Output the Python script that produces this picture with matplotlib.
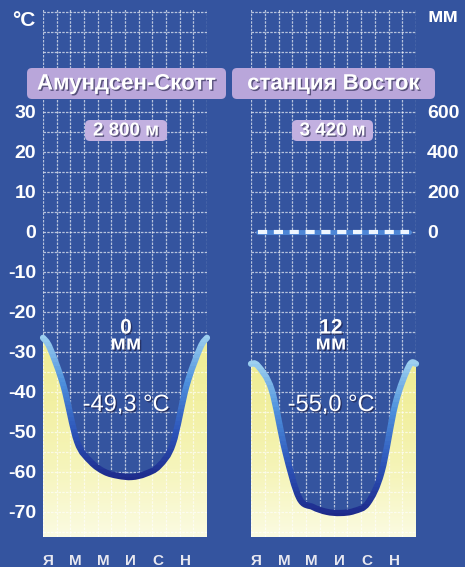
import numpy as np
import matplotlib
matplotlib.use('Agg')
import matplotlib.pyplot as plt
from matplotlib.path import Path
from matplotlib.patches import PathPatch, Rectangle, FancyBboxPatch
from matplotlib.colors import LinearSegmentedColormap
import matplotlib.patheffects as pe

plt.rcParams['font.family'] = ['Liberation Sans', 'DejaVu Sans']

# ---- данные ----
stations = ['Амундсен-Скотт', 'станция Восток']
heights = ['2 800 м', '3 420 м']
mean_temp = ['-49,3 °C', '-55,0 °C']
total_precip = ['0', '12']
month_labels = ['Я', 'М', 'М', 'И', 'С', 'Н']

# средняя температура по месяцам, °C (янв..дек), и значение на краю года
temp_amundsen = [-29, -38.5, -52.5, -57.5, -60, -61, -61.3, -60.5, -58.5, -53, -38.5, -29]
edge_amundsen = -26.5
temp_vostok = [-33.5, -39.5, -55, -66.5, -68.8, -70, -70.3, -69.8, -67.8, -60, -43, -33.5]
edge_vostok = -33
# осадки, мм (Восток, 12 мм за год)
precip_vostok = [1, 1, 1, 1, 1, 1, 1, 1, 1, 1, 1, 1]

t_ticks = [30, 20, 10, 0, -10, -20, -30, -40, -50, -60, -70]
p_ticks = [0, 200, 400, 600]

YMIN, YMAX = -76.3, 55.7
BG = '#34549f'
W, H = 465, 567

fill_cmap = LinearSegmentedColormap.from_list('f', ['#eeec92', '#f2f0a2', '#f6f5bc', '#fbfbe2'])
line_cmap = LinearSegmentedColormap.from_list('l', ['#1c2585', '#2c53b8', '#4d8fdc', '#a6d8f2'])


def smooth_path(xs, ys):
    pts = np.column_stack([xs, ys])
    ext = np.vstack([pts[0], pts, pts[-1]])
    verts = [pts[0]]
    codes = [Path.MOVETO]
    for i in range(len(pts) - 1):
        p0, p1, p2, p3 = ext[i], ext[i + 1], ext[i + 2], ext[i + 3]
        verts += [p1 + (p2 - p0) / 6, p2 - (p3 - p1) / 6, p2]
        codes += [Path.CURVE4] * 3
    return verts, codes


fig = plt.figure(figsize=(4.65, 5.67), dpi=100)
fig.patch.set_facecolor(BG)

panels = [(43, 164, temp_amundsen, edge_amundsen), (251, 165, temp_vostok, edge_vostok)]
axes = []
for k, (x0, w, temps, edge) in enumerate(panels):
    ax = fig.add_axes([x0 / W, 30 / H, w / W, 528 / H])
    ax.set_facecolor(BG)
    ax.set_xlim(0, 12)
    ax.set_ylim(YMIN, YMAX)
    for s in ax.spines.values():
        s.set_visible(False)
    ax.tick_params(length=0, colors='white', labelsize=14)

    xs = np.concatenate([[0], np.arange(12) + 0.5, [12]])
    ys = np.concatenate([[edge], temps, [edge]])
    verts, codes = smooth_path(xs, ys)

    # жёлтая заливка под кривой
    fv = verts + [(12, YMIN), (0, YMIN), (0, YMIN)]
    fc = codes + [Path.LINETO, Path.LINETO, Path.CLOSEPOLY]
    fpatch = PathPatch(Path(fv, fc), facecolor='none', edgecolor='none')
    ax.add_patch(fpatch)
    grad = np.linspace(0, 1, 256).reshape(-1, 1)
    im = ax.imshow(grad, cmap=fill_cmap, aspect='auto', extent=(0, 12, YMIN, max(ys) + 1),
                   origin='upper', zorder=1)
    im.set_clip_path(fpatch)

    # сетка
    for gx in range(13):
        ax.axvline(gx, color='white', lw=0.9, ls=(0, (2, 1)), alpha=0.65, zorder=2)
    for gy in range(-75, 56, 5):
        ax.axhline(gy, color='white', lw=0.9, ls=(0, (2, 1)), alpha=0.65, zorder=2)

    # кривая температуры с вертикальным градиентом
    lo, hi = min(ys) - 2, max(ys) + 2
    bands = np.linspace(lo, hi, 40)
    cpath = Path(verts, codes)
    for i in range(len(bands) - 1):
        col = line_cmap((i + 0.5) / (len(bands) - 1))
        pp = PathPatch(cpath, facecolor='none', edgecolor=col, lw=4.5, zorder=3,
                       capstyle='round', joinstyle='round')
        ax.add_patch(pp)
        rect = Rectangle((-1, bands[i]), 14, bands[i + 1] - bands[i], transform=ax.transData)
        pp.set_clip_path(rect)

    ax.set_xticks(np.arange(0, 12, 2) + 0.4)
    ax.set_xticklabels(month_labels, fontsize=11, fontweight='bold', color='#e8e8f0')
    ax.tick_params(axis='x', pad=12)
    if k == 0:
        ax.set_yticks(t_ticks)
        ax.set_yticklabels([str(t) for t in t_ticks], fontweight='bold')
        ax.tick_params(axis='y', pad=5)
    else:
        ax.set_yticks([])
        ax2 = ax.twinx()
        ax2.set_ylim(YMIN * 20, YMAX * 20)
        for s in ax2.spines.values():
            s.set_visible(False)
        ax2.set_yticks(p_ticks)
        ax2.set_yticklabels([str(p) for p in p_ticks], fontweight='bold')
        ax2.tick_params(length=0, colors='white', labelsize=14, pad=8)
        px = np.arange(12) + 0.5
        ax2.plot(px, precip_vostok, color='#4d86d6', lw=3.5, zorder=4, solid_capstyle='round')
        ax2.plot(px, precip_vostok, color='#eef6ff', lw=3, ls=(0, (2.2, 1.6)), zorder=5)
    axes.append(ax)

# надписи поверх
ov = fig.add_axes([0, 0, 1, 1], zorder=10)
ov.set_xlim(0, W)
ov.set_ylim(H, 0)
ov.axis('off')
shadow = [pe.withSimplePatchShadow(offset=(1, -1), shadow_rgbFace='#1a1a40', alpha=0.6)]

boxes = [(27, 226), (232, 435)]
alt_boxes = [(85, 167), (292, 373)]
for i in range(2):
    bx0, bx1 = boxes[i]
    ov.add_patch(FancyBboxPatch((bx0, 68), bx1 - bx0, 31, boxstyle='round,pad=0,rounding_size=5',
                                facecolor='#b9a6da', edgecolor='none'))
    ov.text((bx0 + bx1) / 2, 84, stations[i], ha='center', va='center', color='white',
            fontsize=16, fontweight='bold', path_effects=shadow)
    ax0, ax1 = alt_boxes[i]
    ov.add_patch(FancyBboxPatch((ax0, 120), ax1 - ax0, 21, boxstyle='round,pad=0,rounding_size=5',
                                facecolor='#c2b0e0', edgecolor='none'))
    ov.text((ax0 + ax1) / 2, 131, heights[i], ha='center', va='center', color='white',
            fontsize=13.5, fontweight='bold', path_effects=shadow)
    cx = [126, 331][i]
    ov.text(cx, 336, total_precip[i] + '\nмм', ha='center', va='center', color='white',
            fontsize=15, fontweight='bold', linespacing=0.8, path_effects=shadow)
    ov.text(cx, 405, mean_temp[i], ha='center', va='center', color='white',
            fontsize=17, path_effects=shadow)

ov.text(24, 20, '°C', ha='center', va='center', color='white', fontsize=15, fontweight='bold')
ov.text(443, 16, 'мм', ha='center', va='center', color='white', fontsize=15, fontweight='bold')

fig.savefig('out.png', dpi=100, facecolor=BG)
